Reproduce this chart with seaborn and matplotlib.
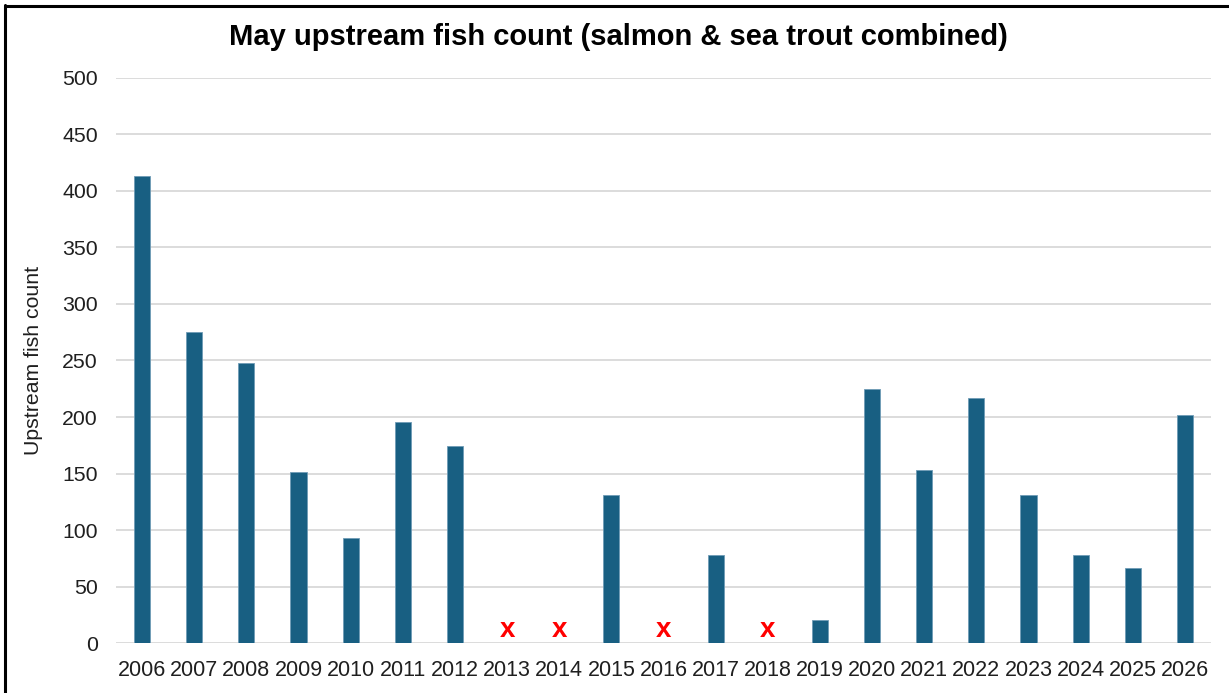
import numpy as np
import pandas as pd
import matplotlib
matplotlib.use("Agg")
import matplotlib.pyplot as plt
import seaborn as sns

# Data (NaN = no count for that year)
years = [str(y) for y in range(2006, 2027)]
counts = [413, 275, 248, 151, 93, 196, 174, np.nan, np.nan, 131,
          np.nan, 78, np.nan, 21, 225, 153, 217, 131, 78, 67, 202]
missing_years = ["2013", "2014", "2016", "2018"]
missing_mark_value = 12  # where the red "x" sits on the y scale

df = pd.DataFrame({"year": years, "count": counts})

sns.set_style("whitegrid")
plt.rcParams["font.family"] = ["Liberation Sans", "DejaVu Sans"]

fig = plt.figure(figsize=(12.29, 6.93), dpi=100)
ax = fig.add_axes([116 / 1229, (693 - 643.3) / 693, 1095 / 1229, 565.6 / 693])

sns.barplot(data=df, x="year", y="count", order=years, color="#185F82",
            saturation=1, width=0.31, errorbar=None,
            edgecolor="#6f9bb6", linewidth=0.6, ax=ax)

# red x for years without a count
for yr in missing_years:
    ax.text(years.index(yr), missing_mark_value, "x", color="#FF0000",
            fontsize=20, fontweight="bold", ha="center", va="center")

ax.set_ylim(0, 500)
ax.set_yticks(range(0, 501, 50))
ax.set_xlabel("")
ax.set_ylabel("")
ax.grid(axis="y", color="#DCDCDC", linewidth=1.4)
ax.grid(axis="x", visible=False)
for s in ax.spines.values():
    s.set_visible(False)
ax.tick_params(axis="y", length=0, pad=13, labelsize=15.3, labelcolor="#1F1F1F")
ax.tick_params(axis="x", length=0, pad=12, labelsize=15.5, labelcolor="#1F1F1F")
ax.set_xlim(-0.5, len(years) - 0.5)

fig.text(618 / 1229, 1 - 37 / 693,
         "May upstream fish count (salmon & sea trout combined)",
         ha="center", va="center", fontsize=21, fontweight="bold", color="black")
fig.text(34 / 1229, 1 - 360 / 693, "Upstream fish count", rotation=90,
         ha="center", va="center", fontsize=15.3, color="#1F1F1F")

# border lines (left and top) like the screenshot frame
fig.add_artist(plt.Line2D([4.5 / 1229, 4.5 / 1229], [0, 1 - 4.5 / 693],
                          color="black", linewidth=2.2, transform=fig.transFigure))
fig.add_artist(plt.Line2D([4.5 / 1229, 1], [1 - 5.5 / 693, 1 - 5.5 / 693],
                          color="black", linewidth=2.2, transform=fig.transFigure))

fig.savefig("out.png", dpi=100)
